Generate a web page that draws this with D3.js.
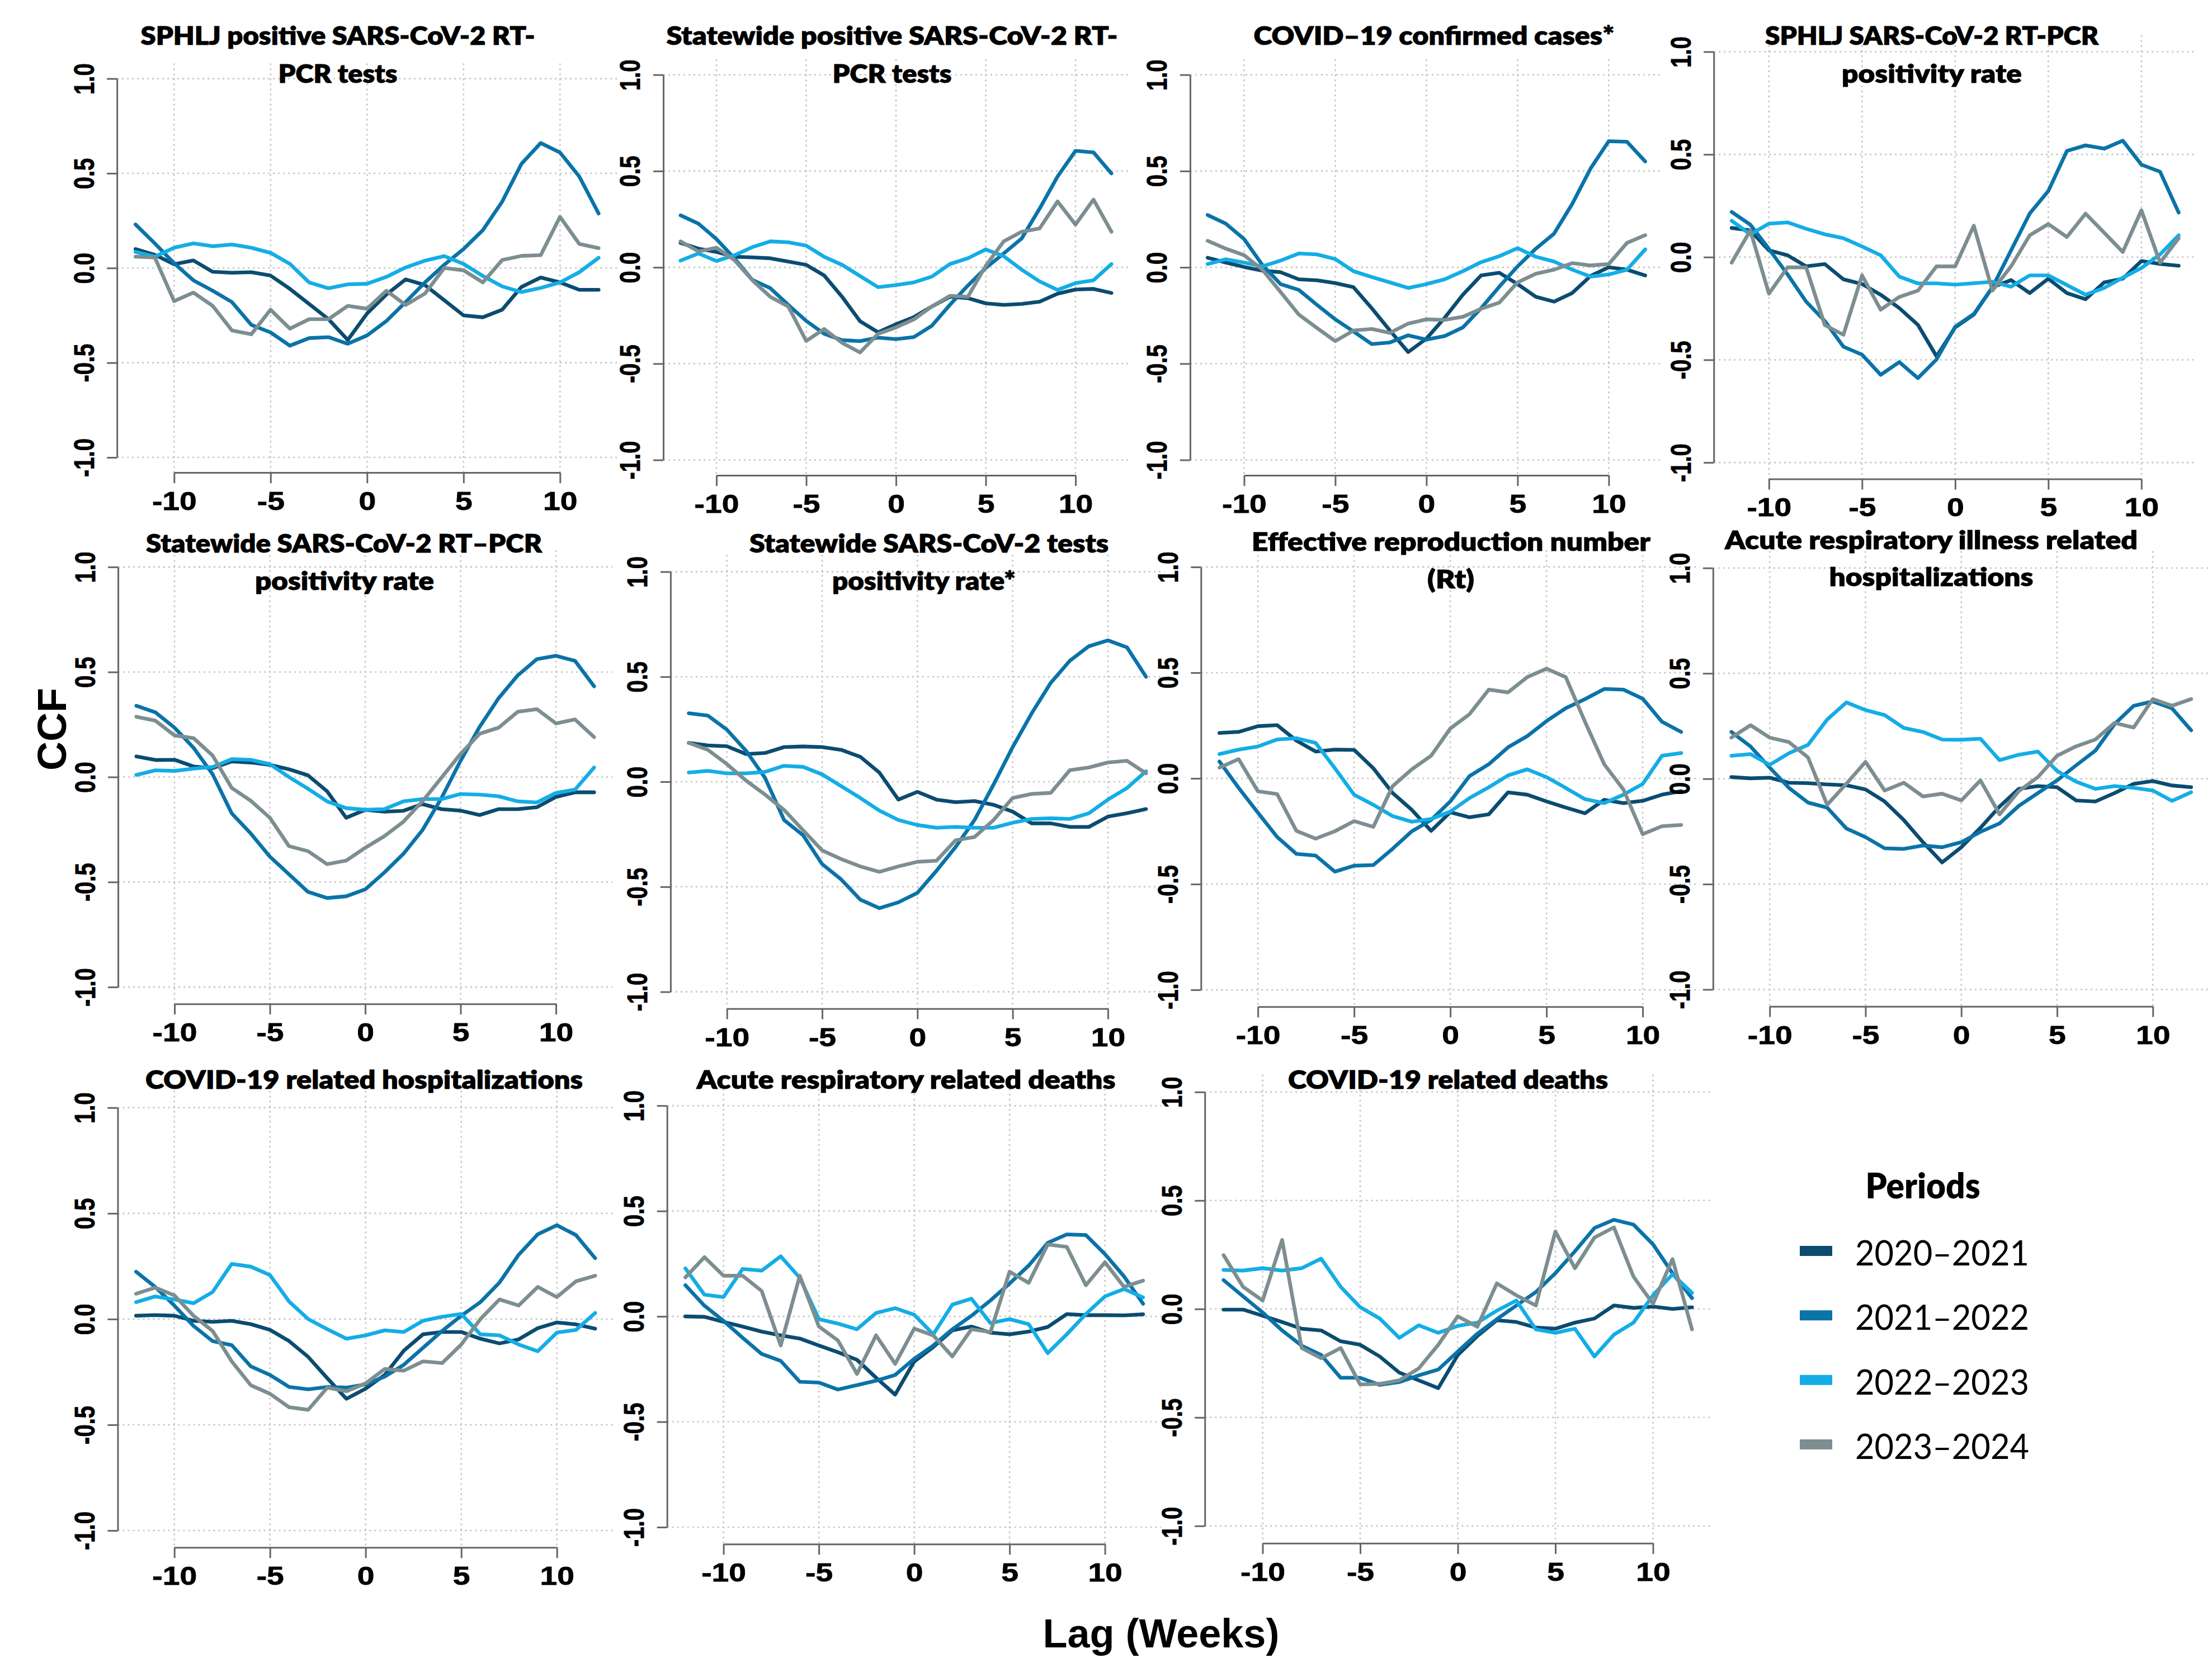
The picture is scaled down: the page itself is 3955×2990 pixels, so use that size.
<!DOCTYPE html>
<html><head><meta charset="utf-8">
<script src="https://cdn.jsdelivr.net/npm/d3@7/dist/d3.min.js"></script>
<style>html,body{margin:0;padding:0;background:#fff}</style>
</head><body>
<svg id="chart" width="3955" height="2990"></svg>
<script>
// ---------------- DATA ----------------
const lags = [-12,-11,-10,-9,-8,-7,-6,-5,-4,-3,-2,-1,0,1,2,3,4,5,6,7,8,9,10,11,12];
const periods = ["2020–2021","2021–2022","2022–2023","2023–2024"];
const xTickValues = [-10,-5,0,5,10];
const xTickLabels = ["-10","-5","0","5","10"];
const yTickValues = [-1,-0.5,0,0.5,1];
const yTickLabels = ["-1.0","-0.5","0.0","0.5","1.0"];
const yAxisTitle = "CCF";
const xAxisTitle = "Lag (Weeks)";
const legendTitle = "Periods";
const panelTitles = [
  ["SPHLJ positive SARS-CoV-2 RT-","PCR tests"],
  ["Statewide positive SARS-CoV-2 RT-","PCR tests"],
  ["COVID–19 confirmed cases*"],
  ["SPHLJ SARS-CoV-2 RT-PCR","positivity rate"],
  ["Statewide SARS-CoV-2 RT–PCR","positivity rate"],
  ["Statewide SARS-CoV-2 tests","positivity rate*"],
  ["Effective reproduction number","(Rt)"],
  ["Acute respiratory illness related","hospitalizations"],
  ["COVID-19 related hospitalizations"],
  ["Acute respiratory related deaths"],
  ["COVID-19 related deaths"]
];
// each panel: [2020–2021, 2021–2022, 2022–2023, 2023–2024], values for lags -12..12
const sphljPositiveTests = [
  [0.10,0.07,0.02,0.04,-0.02,-0.025,-0.022,-0.04,-0.11,-0.19,-0.27,-0.38,-0.24,-0.14,-0.06,-0.09,-0.17,-0.25,-0.26,-0.22,-0.10,-0.05,-0.076,-0.115,-0.115],
  [0.23,0.13,0.025,-0.065,-0.12,-0.18,-0.30,-0.34,-0.41,-0.37,-0.365,-0.40,-0.356,-0.28,-0.18,-0.076,0.017,0.10,0.20,0.35,0.55,0.66,0.61,0.483,0.288],
  [0.085,0.06,0.107,0.13,0.115,0.124,0.107,0.08,0.022,-0.076,-0.107,-0.086,-0.083,-0.047,0.003,0.039,0.063,0.022,-0.042,-0.097,-0.127,-0.105,-0.076,-0.022,0.054],
  [0.06,0.056,-0.175,-0.13,-0.20,-0.33,-0.35,-0.22,-0.32,-0.27,-0.27,-0.20,-0.215,-0.12,-0.195,-0.135,0.0,-0.012,-0.076,0.042,0.064,0.068,0.27,0.127,0.105]
];
const statewidePositiveTests = [
  [0.127,0.097,0.08,0.055,0.052,0.047,0.03,0.013,-0.042,-0.153,-0.28,-0.337,-0.295,-0.258,-0.203,-0.153,-0.16,-0.187,-0.195,-0.19,-0.178,-0.137,-0.115,-0.112,-0.133],
  [0.27,0.227,0.147,0.047,-0.065,-0.108,-0.195,-0.278,-0.345,-0.378,-0.383,-0.365,-0.373,-0.362,-0.303,-0.195,-0.095,-0.003,0.072,0.15,0.305,0.472,0.605,0.597,0.488],
  [0.035,0.072,0.033,0.063,0.105,0.135,0.13,0.113,0.055,0.013,-0.045,-0.103,-0.092,-0.078,-0.048,0.017,0.047,0.093,0.058,-0.012,-0.073,-0.117,-0.082,-0.067,0.017],
  [0.135,0.083,0.102,0.038,-0.067,-0.153,-0.203,-0.382,-0.32,-0.392,-0.442,-0.345,-0.312,-0.27,-0.203,-0.148,-0.153,0.008,0.135,0.185,0.202,0.342,0.222,0.352,0.185]
];
const confirmedCases = [
  [0.05,0.025,0.002,-0.017,-0.025,-0.062,-0.067,-0.082,-0.103,-0.212,-0.328,-0.44,-0.37,-0.262,-0.142,-0.042,-0.028,-0.087,-0.153,-0.178,-0.133,-0.045,0.0,-0.012,-0.042],
  [0.272,0.227,0.147,0.013,-0.087,-0.117,-0.195,-0.27,-0.333,-0.398,-0.39,-0.353,-0.375,-0.357,-0.312,-0.212,-0.1,0.005,0.097,0.175,0.33,0.513,0.655,0.652,0.55],
  [0.017,0.042,0.025,0.005,0.035,0.072,0.067,0.043,-0.02,-0.05,-0.078,-0.107,-0.087,-0.062,-0.02,0.027,0.058,0.1,0.055,0.03,-0.012,-0.048,-0.037,-0.012,0.093],
  [0.138,0.097,0.063,-0.012,-0.128,-0.245,-0.315,-0.383,-0.328,-0.32,-0.34,-0.292,-0.27,-0.273,-0.257,-0.215,-0.183,-0.078,-0.033,-0.012,0.022,0.01,0.017,0.127,0.167]
];
const sphljPositivity = [
  [0.142,0.13,0.033,0.009,-0.045,-0.034,-0.108,-0.131,-0.183,-0.248,-0.33,-0.483,-0.342,-0.28,-0.147,-0.112,-0.175,-0.105,-0.175,-0.205,-0.123,-0.105,-0.019,-0.033,-0.042],
  [0.22,0.158,0.04,-0.084,-0.217,-0.311,-0.436,-0.475,-0.573,-0.511,-0.589,-0.498,-0.339,-0.277,-0.147,0.033,0.212,0.322,0.517,0.544,0.528,0.567,0.45,0.416,0.217],
  [0.177,0.111,0.163,0.169,0.138,0.111,0.092,0.052,0.009,-0.095,-0.128,-0.128,-0.134,-0.127,-0.12,-0.144,-0.089,-0.089,-0.136,-0.183,-0.15,-0.1,-0.053,0.013,0.106],
  [-0.027,0.13,-0.178,-0.05,-0.05,-0.331,-0.378,-0.089,-0.256,-0.194,-0.163,-0.045,-0.045,0.153,-0.163,-0.045,0.106,0.161,0.098,0.212,0.119,0.025,0.228,-0.027,0.092]
];
const statewidePcrPositivity = [
  [0.098,0.081,0.082,0.05,0.042,0.074,0.069,0.058,0.037,0.008,-0.068,-0.194,-0.156,-0.165,-0.161,-0.129,-0.153,-0.16,-0.181,-0.153,-0.153,-0.144,-0.095,-0.073,-0.073],
  [0.339,0.308,0.235,0.139,0.013,-0.173,-0.269,-0.379,-0.463,-0.547,-0.576,-0.568,-0.535,-0.455,-0.366,-0.253,-0.1,0.077,0.239,0.376,0.484,0.561,0.577,0.553,0.432],
  [0.01,0.032,0.029,0.04,0.048,0.085,0.082,0.061,0.0,-0.056,-0.116,-0.148,-0.156,-0.153,-0.116,-0.105,-0.105,-0.081,-0.084,-0.092,-0.116,-0.121,-0.076,-0.06,0.045],
  [0.287,0.268,0.198,0.185,0.102,-0.052,-0.113,-0.194,-0.329,-0.353,-0.415,-0.398,-0.337,-0.282,-0.213,-0.116,-0.003,0.11,0.206,0.235,0.311,0.323,0.255,0.274,0.19]
];
const statewideTestPositivity = [
  [0.185,0.173,0.169,0.132,0.137,0.165,0.168,0.165,0.152,0.119,0.044,-0.085,-0.048,-0.085,-0.097,-0.092,-0.11,-0.142,-0.198,-0.198,-0.215,-0.215,-0.166,-0.15,-0.13],
  [0.326,0.315,0.248,0.148,0.019,-0.182,-0.255,-0.392,-0.465,-0.561,-0.602,-0.574,-0.529,-0.424,-0.311,-0.182,-0.013,0.165,0.326,0.471,0.576,0.645,0.673,0.64,0.50],
  [0.044,0.052,0.04,0.04,0.047,0.076,0.071,0.035,-0.021,-0.077,-0.137,-0.182,-0.206,-0.219,-0.215,-0.219,-0.219,-0.195,-0.177,-0.174,-0.177,-0.15,-0.085,-0.03,0.05],
  [0.185,0.152,0.084,0.006,-0.061,-0.134,-0.231,-0.327,-0.368,-0.403,-0.429,-0.403,-0.381,-0.376,-0.279,-0.263,-0.182,-0.077,-0.058,-0.053,0.055,0.068,0.092,0.10,0.04]
];
const effectiveRt = [
  [0.215,0.22,0.247,0.252,0.179,0.127,0.136,0.135,0.048,-0.069,-0.149,-0.248,-0.16,-0.184,-0.17,-0.066,-0.077,-0.109,-0.138,-0.165,-0.101,-0.117,-0.106,-0.077,-0.06],
  [0.08,-0.045,-0.162,-0.277,-0.357,-0.365,-0.441,-0.413,-0.41,-0.333,-0.25,-0.197,-0.109,0.011,0.067,0.147,0.2,0.271,0.332,0.375,0.423,0.42,0.377,0.268,0.22],
  [0.115,0.136,0.151,0.184,0.19,0.168,0.048,-0.077,-0.125,-0.178,-0.205,-0.192,-0.157,-0.093,-0.042,0.014,0.043,0.006,-0.045,-0.098,-0.117,-0.077,-0.026,0.107,0.12],
  [0.051,0.091,-0.061,-0.074,-0.248,-0.285,-0.25,-0.202,-0.229,-0.037,0.043,0.107,0.236,0.304,0.42,0.407,0.479,0.519,0.479,0.268,0.067,-0.053,-0.264,-0.226,-0.22]
];
const ariHospitalizations = [
  [0.008,0.002,0.005,-0.019,-0.021,-0.027,-0.031,-0.051,-0.108,-0.196,-0.301,-0.397,-0.325,-0.233,-0.132,-0.048,-0.035,-0.04,-0.103,-0.108,-0.068,-0.024,-0.011,-0.032,-0.04],
  [0.222,0.153,0.053,-0.043,-0.113,-0.137,-0.236,-0.277,-0.33,-0.333,-0.317,-0.325,-0.301,-0.252,-0.212,-0.129,-0.068,-0.008,0.064,0.133,0.259,0.346,0.367,0.334,0.23],
  [0.109,0.117,0.066,0.121,0.161,0.281,0.362,0.326,0.302,0.241,0.222,0.186,0.185,0.19,0.088,0.114,0.129,0.037,-0.014,-0.048,-0.035,-0.043,-0.056,-0.105,-0.064],
  [0.195,0.254,0.195,0.174,0.101,-0.124,-0.024,0.08,-0.056,-0.019,-0.084,-0.071,-0.103,-0.008,-0.169,-0.059,0.008,0.109,0.154,0.186,0.265,0.243,0.378,0.346,0.378]
];
const covidHospitalizations = [
  [0.016,0.019,0.016,-0.008,-0.013,-0.008,-0.024,-0.051,-0.104,-0.179,-0.28,-0.377,-0.329,-0.264,-0.149,-0.072,-0.061,-0.061,-0.093,-0.115,-0.096,-0.043,-0.016,-0.025,-0.045],
  [0.224,0.152,0.064,-0.032,-0.104,-0.123,-0.224,-0.264,-0.321,-0.332,-0.321,-0.324,-0.309,-0.272,-0.216,-0.136,-0.056,0.016,0.08,0.173,0.304,0.401,0.444,0.397,0.288],
  [0.08,0.107,0.093,0.075,0.128,0.261,0.248,0.208,0.083,0.0,-0.048,-0.093,-0.077,-0.053,-0.061,-0.008,0.011,0.024,-0.072,-0.077,-0.12,-0.152,-0.064,-0.051,0.029],
  [0.12,0.149,0.112,0.016,-0.056,-0.2,-0.313,-0.353,-0.417,-0.429,-0.324,-0.341,-0.304,-0.236,-0.244,-0.2,-0.208,-0.12,0.0,0.093,0.064,0.152,0.104,0.179,0.205]
];
const ariDeaths = [
  [0.0,-0.002,-0.026,-0.048,-0.072,-0.09,-0.105,-0.138,-0.17,-0.206,-0.291,-0.371,-0.214,-0.145,-0.066,-0.048,-0.077,-0.085,-0.072,-0.05,0.011,0.006,0.006,0.005,0.01],
  [0.148,0.051,-0.021,-0.101,-0.178,-0.211,-0.31,-0.314,-0.347,-0.326,-0.305,-0.278,-0.201,-0.138,-0.061,0.003,0.076,0.156,0.241,0.349,0.389,0.386,0.296,0.19,0.06],
  [0.228,0.103,0.092,0.225,0.217,0.285,0.183,-0.013,-0.034,-0.061,0.016,0.039,0.008,-0.085,0.056,0.084,-0.032,-0.013,-0.037,-0.174,-0.085,0.011,0.095,0.13,0.09],
  [0.185,0.281,0.193,0.193,0.121,-0.138,0.193,-0.048,-0.114,-0.273,-0.09,-0.225,-0.058,-0.09,-0.19,-0.061,-0.074,0.212,0.159,0.341,0.33,0.148,0.257,0.14,0.17]
];
const covidDeaths = [
  [-0.003,-0.003,-0.031,-0.06,-0.091,-0.099,-0.149,-0.165,-0.219,-0.293,-0.329,-0.365,-0.212,-0.125,-0.052,-0.06,-0.086,-0.091,-0.063,-0.044,0.016,0.005,0.011,0.0,0.008],
  [0.133,0.058,-0.016,-0.099,-0.169,-0.212,-0.317,-0.317,-0.35,-0.337,-0.306,-0.279,-0.196,-0.114,-0.047,0.016,0.078,0.165,0.266,0.373,0.411,0.389,0.298,0.165,0.05],
  [0.18,0.177,0.188,0.177,0.188,0.232,0.102,0.008,-0.044,-0.133,-0.075,-0.11,-0.078,-0.063,-0.008,0.039,-0.094,-0.11,-0.091,-0.219,-0.118,-0.063,0.063,0.16,0.074],
  [0.248,0.102,0.039,0.318,-0.18,-0.227,-0.18,-0.348,-0.345,-0.329,-0.274,-0.165,-0.034,-0.082,0.118,0.063,0.016,0.357,0.188,0.329,0.376,0.149,0.024,0.23,-0.094]
];
const panelSeries = [sphljPositiveTests, statewidePositiveTests, confirmedCases, sphljPositivity,
  statewidePcrPositivity, statewideTestPositivity, effectiveRt, ariHospitalizations,
  covidHospitalizations, ariDeaths, covidDeaths];

// ---------------- STYLE / LAYOUT ----------------
const periodColors = ["#0b4c70","#0a73a8","#14ade6","#7d8e91"];
// lag0: x pixel of lag 0, pl: px per lag, y0: y pixel of CCF 0, pu: px per CCF unit
const panelLayout = [
  {lag0:656.3, pl:34.5,  y0:479.3,  pu:338.7, tx:[604,604],   tb:[80.4,148],    tw:[705,213]},
  {lag0:1602,  pl:32.1,  y0:478.1,  pu:344.4, tx:[1595,1595], tb:[80.4,148],    tw:[807,213]},
  {lag0:2550.4,pl:32.6,  y0:478.1,  pu:344.4, tx:[2564],      tb:[80.4],        tw:[645]},
  {lag0:3495.8,pl:33.3,  y0:459.8,  pu:367.3, tx:[3454,3454], tb:[80.4,148],    tw:[596,322]},
  {lag0:653,   pl:34.1,  y0:1389.5, pu:375.6, tx:[615,616],   tb:[987.9,1054.5],tw:[708,320]},
  {lag0:1640.3,pl:34.06, y0:1398,   pu:375.6, tx:[1661,1652], tb:[987.9,1054.5],tw:[642,328]},
  {lag0:2593.1,pl:34.4,  y0:1392,   pu:378.1, tx:[2594.5,2594],tb:[984.8,1051.5],tw:[713,84]},
  {lag0:3506.7,pl:34.25, y0:1392.6, pu:376.9, tx:[3453,3453], tb:[981.8,1048.4],tw:[738,365]},
  {lag0:653.7, pl:34.2,  y0:2358.9, pu:378.1, tx:[651],       tb:[1947],        tw:[782]},
  {lag0:1634.6,pl:34.1,  y0:2354.1, pu:376.9, tx:[1620],      tb:[1947],        tw:[749]},
  {lag0:2606.5,pl:34.9,  y0:2340.8, pu:388,   tx:[2589],      tb:[1947],        tw:[572]}
];

const svg = d3.select("#chart");
svg.append("rect").attr("width",3955).attr("height",2990).attr("fill","#fff");

const tickFont = "'Liberation Sans', Arial, sans-serif";
const titleFont = "Lato, 'Open Sans', sans-serif";

panelSeries.forEach((series, pi) => {
  const L = panelLayout[pi];
  const x = d3.scaleLinear().domain([-12.96, 12.96]).range([L.lag0 - 12.96*L.pl, L.lag0 + 12.96*L.pl]);
  const y = d3.scaleLinear().domain([-1.08, 1.08]).range([L.y0 + 1.08*L.pu, L.y0 - 1.08*L.pu]);
  const g = svg.append("g");

  // grid
  const grid = g.append("g").attr("stroke","#c4c4c4").attr("stroke-width",2.6).attr("stroke-dasharray","3,6");
  grid.selectAll("line.v").data(xTickValues).join("line").attr("class","v")
    .attr("x1",d=>x(d)).attr("x2",d=>x(d)).attr("y1",y(1.08)).attr("y2",y(-1.08));
  grid.selectAll("line.h").data(yTickValues).join("line").attr("class","h")
    .attr("x1",x(-12.96)).attr("x2",x(12.96)).attr("y1",d=>y(d)).attr("y2",d=>y(d));

  // series lines
  const line = d3.line().x((d,i)=>x(lags[i])).y(d=>y(d));
  series.forEach((vals, si) => {
    g.append("path").datum(vals).attr("d", line).attr("fill","none")
      .attr("stroke", periodColors[si]).attr("stroke-width",6.6)
      .attr("stroke-linejoin","round").attr("stroke-linecap","round");
  });

  // x axis (line spans -10..10)
  const xa = d3.scaleLinear().domain([-10,10]).range([x(-10), x(10)]);
  const gx = g.append("g").attr("transform",`translate(0,${y(-1.08)})`)
    .call(d3.axisBottom(xa).tickValues(xTickValues).tickSize(19).tickSizeOuter(0)
      .tickFormat((d,i)=>xTickLabels[i]));
  gx.select(".domain").attr("stroke","#666").attr("stroke-width",3);
  gx.selectAll(".tick line").attr("stroke","#666").attr("stroke-width",3);
  gx.selectAll(".tick text").attr("y",0).attr("dy",0)
    .attr("transform","translate(0,67) scale(1.2,1)")
    .attr("fill","#000").attr("font-family",tickFont).attr("font-weight","bold")
    .attr("font-size",46).attr("text-anchor","middle")
    .attr("stroke","#000").attr("stroke-width",0.8);

  // y axis (line spans -1..1)
  const ya = d3.scaleLinear().domain([-1,1]).range([y(-1), y(1)]);
  const gy = g.append("g").attr("transform",`translate(${x(-12.96)},0)`)
    .call(d3.axisLeft(ya).tickValues(yTickValues).tickSize(18).tickSizeOuter(0)
      .tickFormat((d,i)=>yTickLabels[i]));
  gy.select(".domain").attr("stroke","#666").attr("stroke-width",3);
  gy.selectAll(".tick line").attr("stroke","#666").attr("stroke-width",3);
  gy.selectAll(".tick text").attr("x",0).attr("dy",0)
    .attr("transform","translate(-41.5,0) rotate(-90) scale(1,1.26)")
    .attr("fill","#000").attr("font-family",tickFont).attr("font-weight","bold")
    .attr("font-size",40).attr("text-anchor","middle")
    .attr("stroke","#000").attr("stroke-width",0.8);

  // title
  panelTitles[pi].forEach((t, li) => {
    g.append("text").text(t)
      .attr("x", L.tx[li] - L.tw[li]/2).attr("y", L.tb[li])
      .attr("textLength", L.tw[li]).attr("lengthAdjust","spacingAndGlyphs")
      .attr("font-family", titleFont).attr("font-weight",800).attr("font-size",45)
      .attr("fill","#000").attr("stroke","#000").attr("stroke-width",0.9);
  });
});

// global axis titles
svg.append("text").text(yAxisTitle)
  .attr("transform","translate(118,1304) rotate(-90)")
  .attr("text-anchor","middle").attr("font-family",tickFont).attr("font-weight","bold")
  .attr("font-size",72).attr("fill","#000");
svg.append("text").text(xAxisTitle)
  .attr("x",2076).attr("y",2946).attr("text-anchor","middle")
  .attr("font-family",tickFont).attr("font-weight","bold").attr("font-size",72).attr("fill","#000");

// legend
const lg = svg.append("g");
lg.append("text").text(legendTitle).attr("x",3438).attr("y",2143).attr("text-anchor","middle")
  .attr("font-family",titleFont).attr("font-weight",800).attr("font-size",63)
  .attr("textLength",205).attr("lengthAdjust","spacingAndGlyphs").attr("fill","#000");
const ly = d3.scalePoint().domain(periods).range([2237, 2583]);
periods.forEach((p, i) => {
  lg.append("line").attr("x1",3218).attr("x2",3276).attr("y1",ly(p)).attr("y2",ly(p))
    .attr("stroke",periodColors[i]).attr("stroke-width",18);
  lg.append("text").text(p).attr("x",3317).attr("y",ly(p)+26)
    .attr("font-family",titleFont).attr("font-size",61).attr("fill","#000")
    .attr("textLength",311).attr("lengthAdjust","spacingAndGlyphs");
});
</script>
</body></html>
